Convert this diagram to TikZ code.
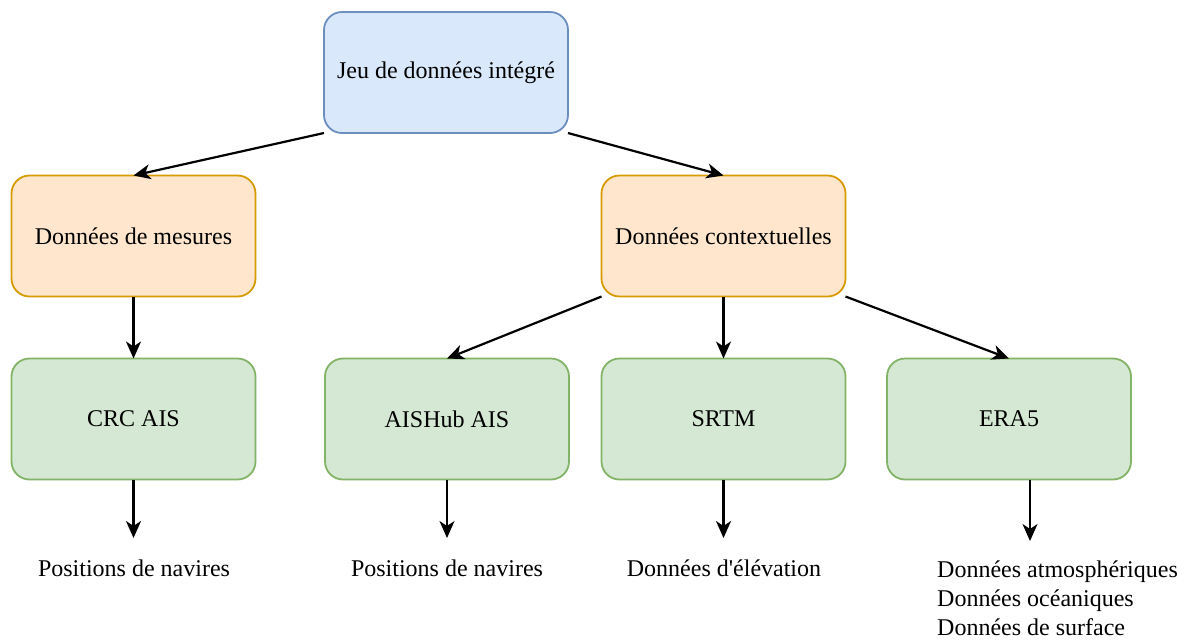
\documentclass[tikz,border=0pt]{standalone}
\usepackage{fontspec}
\setmainfont{Liberation Serif}
\newfontfamily\plainserif{Liberation Serif}
\usetikzlibrary{arrows.meta,calc}
\definecolor{bluefill}{HTML}{DAE8FC}
\definecolor{blueline}{HTML}{6C8EBF}
\definecolor{orangefill}{HTML}{FFE6CC}
\definecolor{orangeline}{HTML}{D79B00}
\definecolor{greenfill}{HTML}{D5E8D4}
\definecolor{greenline}{HTML}{82B366}
\tikzset{
  box/.style={rectangle, rounded corners=18pt, minimum width=244pt, minimum height=121pt,
    line width=1.8pt, outer sep=0pt, inner sep=0pt, font=\fontsize{24}{29}\selectfont},
  bluebox/.style={box, draw=blueline, fill=bluefill},
  orangebox/.style={box, draw=orangeline, fill=orangefill},
  greenbox/.style={box, draw=greenline, fill=greenfill},
  lbl/.style={font=\fontsize{24}{29}\selectfont, inner sep=0pt},
  conn/.style={line width=2.2pt, -{Stealth[length=17pt, width=15pt, inset=5pt]}}
}
\begin{document}
\begin{tikzpicture}[x=1pt, y=-1pt]
\useasboundingbox (0,0) rectangle (1190,641);
\node[bluebox] (top) at (446,72.5) {Jeu de données intégré};
\node[orangebox] (mes) at (133.5,236) {Données de mesures};
\node[orangebox] (ctx) at (723.5,236) {Données contextuelles};
\node[greenbox] (crc) at (133.5,419) {CRC AIS};
\node[greenbox] (hub) at (447,419) {AISHub AIS};
\node[greenbox] (srtm) at (723.5,419) {SRTM};
\node[greenbox] (era) at (1009,419) {ERA5};

\node[lbl] (t1) at (134,568) {Positions de navires};
\node[lbl] (t2) at (447,568) {Positions de navires};
\node[lbl] (t3) at (724,568) {Données d{\plainserif '}élévation};
\node[lbl, align=left, anchor=west] (t4) at (937,598) {Données atmosphériques\\Données océaniques\\Données de surface};

\coordinate (e1) at (133.5,538);
\coordinate (e2) at (447,538);
\coordinate (e3) at (723.5,538);
\coordinate (s4) at (1030,480);
\coordinate (e4) at (1030,541);

\draw[conn] (top.south west) -- (mes.north);
\draw[conn] (top.south east) -- (ctx.north);
\draw[conn] (mes.south) -- (crc.north);
\draw[conn] (ctx.south west) -- (hub.north);
\draw[conn] (ctx.south) -- (srtm.north);
\draw[conn] (ctx.south east) -- (era.north);
\draw[conn] (crc.south) -- (e1);
\draw[conn] (hub.south) -- (e2);
\draw[conn] (srtm.south) -- (e3);
\draw[conn] (s4) -- (e4);
\end{tikzpicture}
\end{document}
